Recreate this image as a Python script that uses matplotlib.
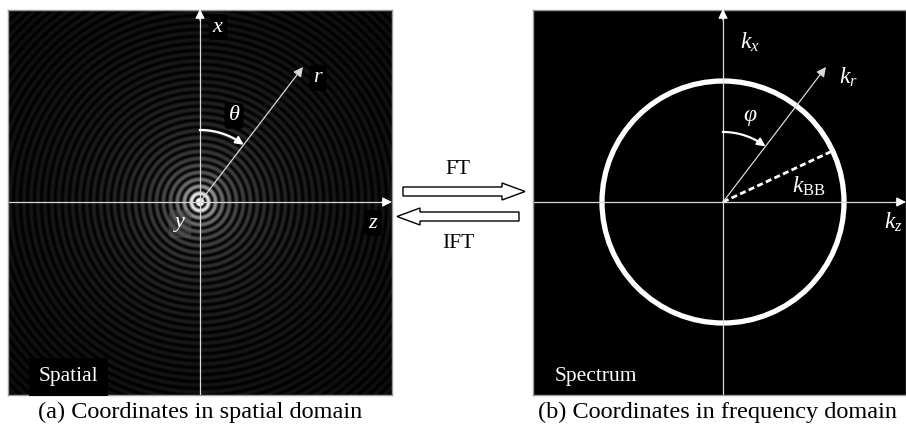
import numpy as np
import matplotlib.pyplot as plt
from matplotlib.patches import Circle, FancyArrow

plt.rcParams['font.family'] = ['Liberation Serif', 'DejaVu Serif']
plt.rcParams['mathtext.fontset'] = 'custom'
plt.rcParams['mathtext.rm'] = 'Liberation Serif'
plt.rcParams['mathtext.it'] = 'Liberation Serif:italic'

# geometry of the two panels (pixel units, origin at the panel centre)
left_xlim = (-192, 192)
left_ylim = (-193, 192)
right_xlim = (-190, 183)
right_ylim = (-193, 192)

# ring pattern of the spatial field
k_ring = 0.45          # radial wavenumber, 1/px
ring_gain = 4.0
ring_power = 1.6

# rotated coordinate arrow and angle arcs
r_tip = [103, 135]
theta_arc_radius = 72
phi_arc_radius = 70

# spectrum circle and the k_BB radius
k_bb_radius = 121
k_bb_angle = 25        # degrees above the kz axis

axis_col = '#d8d8d8'


def j0(x):
    tau = np.linspace(0, np.pi, 1500)
    return np.trapezoid(np.cos(np.outer(x, np.sin(tau))), tau, axis=1) / np.pi


fig = plt.figure(figsize=(9.06, 4.28), dpi=100)
W, H = 906.0, 428.0

# spatial-domain panel
ax1 = fig.add_axes([8 / W, (H - 395) / H, 384 / W, 385 / H])
r1 = np.linspace(0, 300, 6000)
j = j0(k_ring * r1)
xx, yy = np.meshgrid(np.linspace(*left_xlim, 768), np.linspace(*left_ylim, 770))
field = np.interp(np.hypot(xx, yy), r1, np.abs(j))
img = np.clip(ring_gain * field ** ring_power, 0, 1)
ax1.imshow(img, cmap='gray', vmin=0, vmax=1, origin='lower',
           extent=[*left_xlim, *left_ylim], interpolation='bilinear')

# spectrum panel
ax2 = fig.add_axes([533 / W, (H - 395) / H, 373 / W, 385 / H])
ax2.set_facecolor('black')
ax2.add_patch(Circle((0, 0), k_bb_radius, fill=False, ec='white', lw=3.8))

for ax, xl, yl in [(ax1, left_xlim, left_ylim), (ax2, right_xlim, right_ylim)]:
    ax.set_xlim(*xl)
    ax.set_ylim(*yl)
    ax.set_aspect('auto')
    ax.set_xticks([])
    ax.set_yticks([])
    for s in ax.spines.values():
        s.set_color('#9a9a9a')
        s.set_linewidth(1.0)
    # coordinate axes through the centre
    ax.plot([xl[0], xl[1] - 6], [0, 0], color=axis_col, lw=0.9)
    ax.plot([0, 0], [yl[0], yl[1] - 6], color=axis_col, lw=0.9)
    ax.annotate('', xy=(xl[1], 0), xytext=(xl[1] - 10, 0),
                arrowprops=dict(arrowstyle='-|>', color='white', lw=0.9,
                                mutation_scale=14, shrinkA=0, shrinkB=0),
                annotation_clip=False)
    ax.annotate('', xy=(0, yl[1] + 1), xytext=(0, yl[1] - 10),
                arrowprops=dict(arrowstyle='-|>', color='white', lw=0.9,
                                mutation_scale=14, shrinkA=0, shrinkB=0),
                annotation_clip=False)
    # radial arrow
    ax.annotate('', xy=r_tip, xytext=(0, 0),
                arrowprops=dict(arrowstyle='-|>', color=axis_col, lw=0.9,
                                mutation_scale=14, shrinkA=0, shrinkB=0))

# angle arcs from the vertical axis to the radial arrow
ang_r = np.degrees(np.arctan2(r_tip[1], r_tip[0]))
for ax, rad in [(ax1, theta_arc_radius), (ax2, phi_arc_radius)]:
    a = np.radians(np.linspace(90, ang_r + 3, 60))
    ax.plot(rad * np.cos(a), rad * np.sin(a), color='white', lw=1.6)
    ae = np.radians(ang_r)
    ax.annotate('', xy=(rad * np.cos(ae), rad * np.sin(ae)),
                xytext=(rad * np.cos(ae + 0.08), rad * np.sin(ae + 0.08)),
                arrowprops=dict(arrowstyle='-|>', color='white', lw=1.4,
                                mutation_scale=12, shrinkA=0, shrinkB=0))

# k_BB dashed radius
kb = np.radians(k_bb_angle)
ax2.plot([0, k_bb_radius * np.cos(kb)], [0, k_bb_radius * np.sin(kb)],
         color='white', lw=2.0, ls=(0, (2.2, 1.2)))

lab = dict(color='white', fontsize=16, ha='center', va='center')
box = dict(boxstyle='round,pad=0.15', fc='black', ec='none')
ax1.text(18, 175, '$x$', bbox=box, **lab)
ax1.text(118, 124, '$r$', bbox=box, **lab)
ax1.text(34, 86, r'$\theta$', bbox=box, **lab)
ax1.text(-20, -22, '$y$',
         bbox=dict(boxstyle='round,pad=0.2', fc='#555555', ec='none', alpha=0.5),
         **lab)
ax1.text(173, -21, '$z$', bbox=box, **lab)
ax1.text(-132, -175, 'Spatial', color='white', fontsize=15.5, ha='center',
         va='center', bbox=dict(boxstyle='square,pad=0.45', fc='black', ec='none'))

lab2 = dict(lab, fontsize=17)
ax2.text(27, 160, '$k_x$', **lab2)
ax2.text(125, 125, '$k_r$', **lab2)
ax2.text(27, 85, r'$\varphi$', **lab2)
ax2.text(86, 16, r'$k_{\mathrm{BB}}$', **lab2)
ax2.text(170, -20, '$k_z$', **lab2)
ax2.text(-127, -175, 'Spectrum', color='white', fontsize=15.5, ha='center',
         va='center')

# overlay in figure pixels for the transform arrows and captions
ov = fig.add_axes([0, 0, 1, 1])
ov.set_xlim(0, W)
ov.set_ylim(H, 0)
ov.axis('off')
ov.patch.set_alpha(0)

ov.add_patch(FancyArrow(403, 191.5, 122, 0, width=9, head_width=17,
                        head_length=23, length_includes_head=True,
                        fc='white', ec='black', lw=1.0))
ov.add_patch(FancyArrow(519, 216.5, -122, 0, width=9, head_width=17,
                        head_length=23, length_includes_head=True,
                        fc='white', ec='black', lw=1.0))
ov.text(458, 170, 'FT', fontsize=15.5, ha='center', va='center')
ov.text(458, 243, 'IFT', fontsize=15.5, ha='center', va='center')

ov.text(200, 412, '(a) Coordinates in spatial domain', fontsize=17.5,
        ha='center', va='center')
ov.text(718, 412, '(b) Coordinates in frequency domain', fontsize=17.5,
        ha='center', va='center')

fig.savefig('out.png', dpi=100, facecolor='white')
